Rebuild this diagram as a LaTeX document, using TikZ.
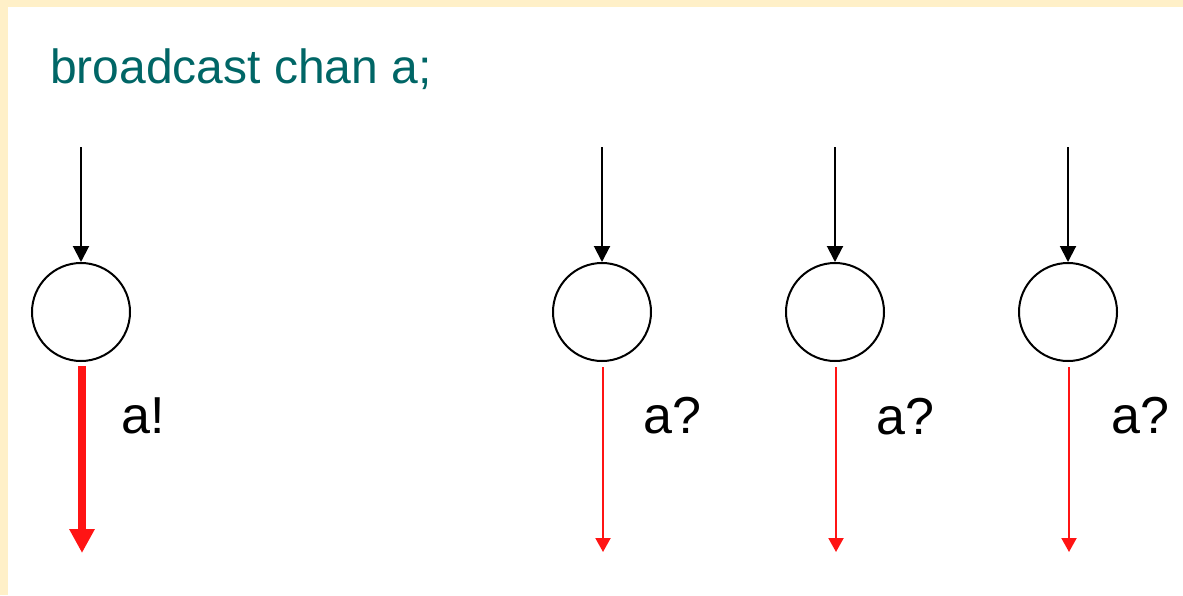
\documentclass[tikz,border=0pt]{standalone}
\usepackage{fontspec}
\setmainfont{Liberation Sans}
\usetikzlibrary{arrows.meta}
\definecolor{cream}{RGB}{255,240,200}
\definecolor{teal}{RGB}{0,102,102}
\definecolor{redline}{RGB}{255,20,20}
\tikzset{
  state/.style={circle,draw=black,line width=2pt,inner sep=0pt,minimum size=98pt},
  inarrow/.style={draw=black,line width=2pt,-{Triangle[width=16pt,length=16pt]}},
  sendarrow/.style={draw=redline,line width=7.5pt,-{Triangle[width=24pt,length=24pt]}},
  recvarrow/.style={draw=redline,line width=2pt,-{Triangle[width=15pt,length=14pt]}},
  lbl/.style={font=\fontsize{52}{60}\selectfont,inner sep=0pt,anchor=base west},
  title/.style={font=\fontsize{48}{56}\selectfont,text=teal,inner sep=0pt,anchor=base west}
}
\begin{document}
\begin{tikzpicture}[x=1pt,y=-1pt]
\fill[cream] (0,0) rectangle (1183,595);
\fill[white] (8,7) rectangle (1183,595);
\useasboundingbox (0,0) rectangle (1183,595);
\node[title] (ttl) at (50,83) {broadcast chan a;};
% states
\node[state] (s1) at (81,312) {};
\node[state] (s2) at (602,312) {};
\node[state] (s3) at (835,312) {};
\node[state] (s4) at (1068,312) {};
% incoming ends
\coordinate (t1) at (81,147);
\coordinate (t2) at (602,147);
\coordinate (t3) at (835,147);
\coordinate (t4) at (1068,147);
% outgoing ends
\coordinate (e1) at (82,553);
\coordinate (e2) at (603,552);
\coordinate (e3) at (836,552);
\coordinate (e4) at (1069,552);
\coordinate (b1) at (82,366);
\coordinate (b2) at (603,367);
\coordinate (b3) at (836,367);
\coordinate (b4) at (1069,367);
\draw[inarrow] (t1) -- (s1.north);
\draw[inarrow] (t2) -- (s2.north);
\draw[inarrow] (t3) -- (s3.north);
\draw[inarrow] (t4) -- (s4.north);
\draw[sendarrow] (b1) -- (e1);
\draw[recvarrow] (b2) -- (e2);
\draw[recvarrow] (b3) -- (e3);
\draw[recvarrow] (b4) -- (e4);
\node[lbl] (l1) at (121,433) {a!};
\node[lbl] (l2) at (643,433) {a?};
\node[lbl] (l3) at (876,434) {a?};
\node[lbl] (l4) at (1111,433) {a?};
\end{tikzpicture}
\end{document}
